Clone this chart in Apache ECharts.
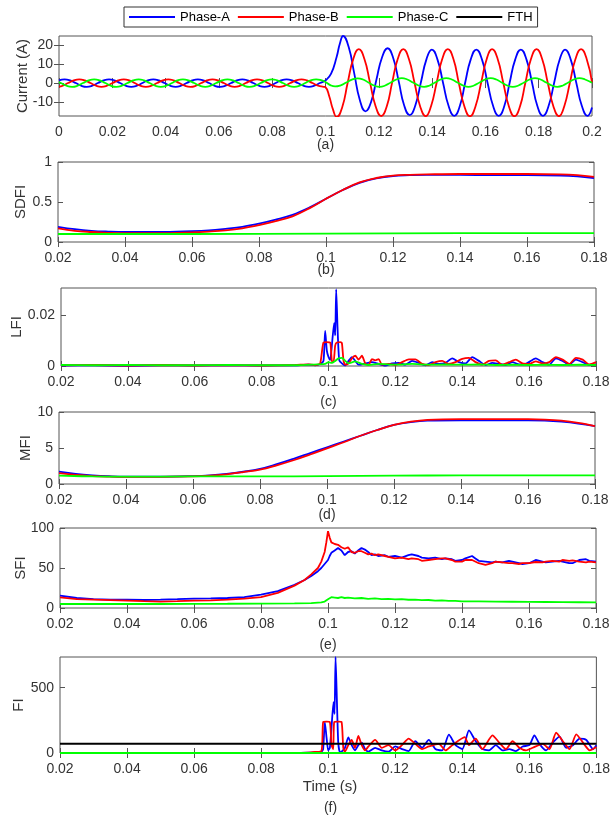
<!DOCTYPE html>
<html>
<head>
<meta charset="utf-8">
<script src="https://cdn.jsdelivr.net/npm/echarts@6.0.0/dist/echarts.min.js"></script>
<style>
html,body{margin:0;padding:0;background:#fff}
#chart{width:613px;height:817px}
</style>
</head>
<body>
<div id="chart"></div>
<script>
// ---- tick labels ----
const xTicksA = [0, 0.02, 0.04, 0.06, 0.08, 0.1, 0.12, 0.14, 0.16, 0.18, 0.2]
const xTicks = [0.02, 0.04, 0.06, 0.08, 0.1, 0.12, 0.14, 0.16, 0.18]
const yTicksA = [-10, 0, 10, 20]
const yTicksB = [0, 0.5, 1]
const yTicksC = [0, 0.02]
const yTicksD = [0, 5, 10]
const yTicksE = [0, 50, 100]
const yTicksF = [0, 500]

// ---- (a) currents [t, A] ----
const curA = [[0,1.41],[0.0021,2],[0.0042,1.41],[0.0063,0],[0.0083,-1.41],[0.0104,-2],[0.0125,-1.41],[0.0146,0],[0.0167,1.41],[0.0188,2],[0.0208,1.41],[0.0229,0],[0.025,-1.41],[0.0271,-2],[0.0292,-1.41],[0.0313,0],[0.0333,1.41],[0.0354,2],[0.0375,1.41],[0.0396,0],[0.0417,-1.41],[0.0438,-2],[0.0458,-1.41],[0.0479,0],[0.05,1.41],[0.0521,2],[0.0542,1.41],[0.0563,0],[0.0583,-1.41],[0.0604,-2],[0.0625,-1.41],[0.0646,0],[0.0667,1.41],[0.0688,2],[0.0708,1.41],[0.0729,0],[0.075,-1.41],[0.0771,-2],[0.0792,-1.41],[0.0813,0],[0.0833,1.41],[0.0854,2],[0.0875,1.41],[0.0896,0],[0.0917,-1.41],[0.0938,-2],[0.0958,-1.41],[0.0979,0],[0.1,1.41],
  [0.1021,5],[0.1042,14],[0.1054,21],[0.1066,25],[0.1087,19.1],[0.1108,5],[0.1129,-9.1],[0.115,-15],[0.1171,-10.1],[0.1191,1.75],[0.1212,13.6],[0.1233,18.5],[0.1254,13.3],[0.1275,0.75],[0.1295,-11.8],[0.1316,-17],[0.1337,-11.9],[0.1358,0.4],[0.1379,12.7],[0.1399,17.8],[0.142,12.6],[0.1441,0.2],[0.1462,-12.2],[0.1483,-17.4],[0.1504,-12.2],[0.1524,0.2],[0.1545,12.6],[0.1566,17.8],[0.1587,12.6],[0.1608,0.2],[0.1629,-12.2],[0.165,-17.4],[0.1671,-12.2],[0.1691,0.2],[0.1712,12.6],[0.1733,17.8],[0.1754,12.6],[0.1775,0.2],[0.1795,-12.2],[0.1816,-17.4],[0.1837,-12.2],[0.1858,0.2],[0.1879,12.6],[0.1899,17.8],[0.192,12.6],[0.1941,0.2],[0.1962,-12.2],[0.1983,-17.4],[0.2,-13]]
const curB = [[0,-1.95],[0.0014,-1.41],[0.0034,0],[0.0055,1.41],[0.0076,2],[0.0097,1.41],[0.0118,0],[0.0139,-1.41],[0.0159,-2],[0.018,-1.41],[0.0201,0],[0.0222,1.41],[0.0243,2],[0.0264,1.41],[0.0284,0],[0.0305,-1.41],[0.0326,-2],[0.0347,-1.41],[0.0368,0],[0.0389,1.41],[0.041,2],[0.043,1.41],[0.0451,0],[0.0472,-1.41],[0.0493,-2],[0.0514,-1.41],[0.0534,0],[0.0555,1.41],[0.0576,2],[0.0597,1.41],[0.0618,0],[0.0639,-1.41],[0.0659,-2],[0.068,-1.41],[0.0701,0],[0.0722,1.41],[0.0743,2],[0.0764,1.41],[0.0784,0],[0.0805,-1.41],[0.0826,-2],[0.0847,-1.41],[0.0868,0],[0.0889,1.41],[0.091,2],[0.093,1.41],[0.0951,0],[0.0972,-1.41],[0.0993,-2],[0.1,-2.2],
  [0.1014,-7],[0.1028,-14],[0.1042,-18],[0.1063,-12.7],[0.1083,0],[0.1104,12.7],[0.1125,18],[0.1146,12.8],[0.1167,0.25],[0.1188,-12.3],[0.1209,-17.5],[0.123,-12.3],[0.125,0.25],[0.1271,12.8],[0.1292,18],[0.1313,12.8],[0.1334,0.2],[0.1355,-12.3],[0.1376,-17.6],[0.1396,-12.3],[0.1417,0.2],[0.1438,12.8],[0.1459,18],[0.148,12.8],[0.15,0.2],[0.1521,-12.3],[0.1542,-17.6],[0.1563,-12.3],[0.1584,0.2],[0.1605,12.8],[0.1625,18],[0.1646,12.8],[0.1667,0.2],[0.1688,-12.3],[0.1709,-17.6],[0.173,-12.3],[0.175,0.2],[0.1771,12.8],[0.1792,18],[0.1813,12.8],[0.1834,0.2],[0.1855,-12.3],[0.1876,-17.6],[0.1896,-12.3],[0.1917,0.2],[0.1938,12.8],[0.1959,18],[0.198,12.8],[0.2,0.4]]
const curC = [[0,0.5],[0.0007,0],[0.0028,-1.41],[0.0049,-2],[0.007,-1.41],[0.009,0],[0.0111,1.41],[0.0132,2],[0.0153,1.41],[0.0174,0],[0.0194,-1.41],[0.0215,-2],[0.0236,-1.41],[0.0257,0],[0.0278,1.41],[0.0299,2],[0.0319,1.41],[0.034,0],[0.0361,-1.41],[0.0382,-2],[0.0403,-1.41],[0.0424,0],[0.0444,1.41],[0.0465,2],[0.0486,1.41],[0.0507,0],[0.0528,-1.41],[0.0549,-2],[0.0569,-1.41],[0.059,0],[0.0611,1.41],[0.0632,2],[0.0653,1.41],[0.0674,0],[0.0694,-1.41],[0.0715,-2],[0.0736,-1.41],[0.0757,0],[0.0778,1.41],[0.0799,2],[0.0819,1.41],[0.084,0],[0.0861,-1.41],[0.0882,-2],[0.0903,-1.41],[0.0924,0],[0.0944,1.41],[0.0965,2],[0.0986,1.41],[0.1,0.6],
  [0.1018,-1.1],[0.1036,-1.8],[0.1057,-1.2],[0.1078,0.3],[0.1099,1.8],[0.112,2.5],[0.1141,1.9],[0.1161,0.3],[0.1182,-1.3],[0.1203,-2],[0.1224,-1.3],[0.1245,0.3],[0.1266,1.9],[0.1286,2.6],[0.1307,1.9],[0.1328,0.3],[0.1349,-1.3],[0.137,-2],[0.1391,-1.3],[0.1411,0.3],[0.1432,1.9],[0.1453,2.6],[0.1474,1.9],[0.1495,0.3],[0.1516,-1.3],[0.1536,-2],[0.1557,-1.3],[0.1578,0.3],[0.1599,1.9],[0.162,2.6],[0.1641,1.9],[0.1661,0.3],[0.1682,-1.3],[0.1703,-2],[0.1724,-1.3],[0.1745,0.3],[0.1766,1.9],[0.1786,2.6],[0.1807,1.9],[0.1828,0.3],[0.1849,-1.3],[0.187,-2],[0.1891,-1.3],[0.1911,0.3],[0.1932,1.9],[0.1953,2.6],[0.1974,1.9],[0.2,0.2]]

// ---- (b) SDFI ----
const sdfiA = [[0.02,0.19],[0.025,0.16],[0.03,0.14],[0.035,0.13],[0.04,0.125],[0.05,0.125],[0.06,0.135],[0.065,0.145],[0.07,0.165],[0.075,0.19],[0.08,0.23],[0.085,0.28],[0.09,0.34],[0.095,0.43],[0.1,0.54],[0.105,0.65],[0.11,0.74],[0.115,0.795],[0.12,0.825],[0.125,0.835],[0.13,0.84],[0.14,0.84],[0.15,0.835],[0.16,0.835],[0.17,0.83],[0.175,0.82],[0.18,0.8]]
const sdfiB = [[0.02,0.17],[0.025,0.14],[0.03,0.125],[0.035,0.115],[0.04,0.11],[0.05,0.11],[0.06,0.12],[0.065,0.13],[0.07,0.145],[0.075,0.17],[0.08,0.21],[0.085,0.26],[0.09,0.32],[0.095,0.42],[0.1,0.54],[0.105,0.65],[0.11,0.745],[0.115,0.8],[0.12,0.83],[0.125,0.84],[0.13,0.845],[0.14,0.85],[0.15,0.85],[0.16,0.85],[0.17,0.845],[0.175,0.835],[0.18,0.815]]
const sdfiC = [[0.02,0.1],[0.06,0.1],[0.1,0.105],[0.14,0.11],[0.18,0.11]]

// ---- (c) LFI ----
const lfiA = [[0.02,0.0002],[0.03,0.0003],[0.04,0.0001],[0.05,0.0003],[0.06,0.0002],[0.07,0.0003],[0.08,0.0002],[0.09,0.0003],[0.094,0.0005],[0.096,0.0003],[0.0975,0.0008],[0.0985,0.002],[0.099,0.0137],[0.0995,0.006],[0.1,0.0035],[0.1005,0.0023],[0.101,0.008],[0.1017,0.0168],[0.102,0.012],[0.1023,0.03],[0.1027,0.015],[0.1032,0.0023],[0.104,0.001],[0.105,0.0002],[0.106,0.002],[0.107,0.0035],[0.108,0.002],[0.109,0.0005],[0.111,0.001],[0.113,0.0015],[0.115,0.0008],[0.117,0.0002],[0.119,0.001],[0.121,0.0012],[0.123,0.0005],[0.125,0.002],[0.127,0.0012],[0.129,0.0003],[0.131,0.0015],[0.133,0.0008],[0.135,0.0012],[0.137,0.003],[0.139,0.0015],[0.141,0.001],[0.143,0.0035],[0.145,0.002],[0.147,0.0004],[0.149,0.0012],[0.151,0.0008],[0.153,0.0004],[0.155,0.0015],[0.157,0.0006],[0.159,0.0008],[0.162,0.003],[0.164,0.0015],[0.166,0.0005],[0.168,0.003],[0.17,0.002],[0.172,0.0005],[0.174,0.0025],[0.176,0.0015],[0.178,0.0004],[0.18,0.0006]]
const lfiB = [[0.02,0.0003],[0.03,0.0004],[0.04,0.0002],[0.05,0.0004],[0.06,0.0002],[0.07,0.0003],[0.08,0.0002],[0.09,0.0004],[0.094,0.0006],[0.096,0.0004],[0.0975,0.001],[0.0985,0.0092],[0.0995,0.0093],[0.1005,0.0092],[0.101,0.002],[0.1015,0.0015],[0.102,0.008],[0.1025,0.0092],[0.1035,0.0093],[0.104,0.009],[0.1045,0.002],[0.105,0.0005],[0.106,0.001],[0.107,0.003],[0.108,0.004],[0.109,0.0025],[0.11,0.004],[0.111,0.001],[0.112,0.0005],[0.113,0.0027],[0.114,0.0022],[0.115,0.0027],[0.116,0.0005],[0.118,0.0008],[0.12,0.0004],[0.122,0.0015],[0.124,0.0026],[0.126,0.0026],[0.128,0.0008],[0.13,0.0004],[0.132,0.0015],[0.134,0.002],[0.136,0.0008],[0.138,0.0015],[0.14,0.0028],[0.142,0.0032],[0.144,0.0015],[0.146,0.0005],[0.148,0.002],[0.15,0.0022],[0.152,0.0005],[0.154,0.0015],[0.156,0.0025],[0.158,0.001],[0.16,0.0008],[0.162,0.0018],[0.164,0.001],[0.166,0.0015],[0.168,0.0035],[0.17,0.0025],[0.172,0.0008],[0.174,0.0032],[0.176,0.0025],[0.178,0.0006],[0.18,0.0015]]
const lfiC = [[0.02,0.0004],[0.03,0.0003],[0.04,0.0004],[0.05,0.0003],[0.06,0.0003],[0.07,0.0004],[0.08,0.0003],[0.09,0.0003],[0.095,0.0005],[0.099,0.0008],[0.1,0.0015],[0.101,0.0012],[0.102,0.002],[0.103,0.003],[0.104,0.0032],[0.105,0.002],[0.106,0.001],[0.108,0.0018],[0.11,0.0008],[0.112,0.0004],[0.115,0.0008],[0.12,0.0005],[0.125,0.0008],[0.13,0.0005],[0.135,0.0006],[0.14,0.0005],[0.145,0.0006],[0.15,0.0004],[0.155,0.0005],[0.16,0.0004],[0.165,0.0005],[0.17,0.0004],[0.175,0.0005],[0.18,0.0004]]

// ---- (d) MFI ----
const mfiA = [[0.02,1.72],[0.025,1.4],[0.03,1.2],[0.035,1.08],[0.04,1.02],[0.05,1.02],[0.06,1.1],[0.065,1.2],[0.07,1.4],[0.075,1.7],[0.08,2.1],[0.085,2.75],[0.09,3.5],[0.095,4.3],[0.1,5.1],[0.105,5.9],[0.11,6.7],[0.115,7.5],[0.12,8.2],[0.125,8.6],[0.13,8.8],[0.14,8.85],[0.15,8.85],[0.16,8.85],[0.165,8.8],[0.17,8.65],[0.175,8.4],[0.18,8.05]]
const mfiB = [[0.02,1.5],[0.025,1.25],[0.03,1.1],[0.035,1.03],[0.04,1],[0.05,1],[0.06,1.05],[0.065,1.15],[0.07,1.35],[0.075,1.65],[0.08,2],[0.085,2.6],[0.09,3.3],[0.095,4.1],[0.1,4.95],[0.105,5.8],[0.11,6.7],[0.115,7.5],[0.12,8.2],[0.125,8.65],[0.13,8.9],[0.14,9],[0.15,9],[0.16,9],[0.165,8.95],[0.17,8.8],[0.175,8.5],[0.18,8.05]]
const mfiC = [[0.02,1.15],[0.03,1.05],[0.04,1.02],[0.06,1.05],[0.08,1.05],[0.1,1.1],[0.12,1.15],[0.14,1.2],[0.16,1.2],[0.18,1.2]]

// ---- (e) SFI ----
const sfiA = [[0.02,15.4],[0.025,12.5],[0.03,11],[0.035,10.5],[0.04,10.4],[0.045,10],[0.05,10.4],[0.055,11],[0.06,11.7],[0.065,12],[0.07,12.5],[0.075,13.7],[0.08,16.7],[0.085,21],[0.09,29],[0.093,35],[0.095,40],[0.097,46],[0.098,50],[0.099,55],[0.1,60],[0.1005,65],[0.101,69],[0.102,72],[0.103,75],[0.104,72],[0.105,66],[0.106,70],[0.107,71],[0.108,68],[0.109,72],[0.11,75],[0.111,73],[0.112,70],[0.113,66],[0.114,67],[0.115,65],[0.117,66],[0.118,64],[0.12,65],[0.122,63],[0.124,66],[0.125,67],[0.127,65],[0.128,63],[0.13,62],[0.132,63],[0.134,61],[0.135,62],[0.137,61],[0.138,59],[0.14,60],[0.141,62],[0.143,65],[0.144,62],[0.145,59],[0.147,58],[0.149,57],[0.15,58],[0.152,57],[0.154,59],[0.155,58],[0.157,56],[0.158,55],[0.16,56],[0.162,60],[0.164,58],[0.165,57],[0.167,58],[0.169,59],[0.17,58],[0.172,56],[0.173,56],[0.175,60],[0.177,61],[0.178,59],[0.18,58]]
const sfiB = [[0.02,13.3],[0.025,11],[0.03,10.4],[0.035,9.8],[0.04,9.2],[0.045,8.5],[0.05,8],[0.055,8.5],[0.06,9.2],[0.065,9.6],[0.07,10.4],[0.075,11.7],[0.08,13.7],[0.085,19],[0.09,28],[0.093,35],[0.095,42],[0.097,50],[0.098,58],[0.099,70],[0.0995,82],[0.1,96],[0.1005,88],[0.101,82],[0.102,80],[0.103,79],[0.104,76],[0.105,74],[0.106,76],[0.107,70],[0.108,69],[0.109,71],[0.11,71],[0.111,69],[0.112,67],[0.113,68],[0.114,66],[0.115,67],[0.117,65],[0.118,64],[0.12,62],[0.122,63],[0.124,61],[0.125,62],[0.127,61],[0.128,59],[0.13,60],[0.132,61],[0.134,62],[0.135,62],[0.137,60],[0.138,58],[0.14,58],[0.141,60],[0.143,60],[0.145,56],[0.147,54],[0.149,56],[0.15,58],[0.152,57],[0.154,56],[0.155,56],[0.157,55],[0.158,56],[0.16,56],[0.162,57.5],[0.164,57],[0.165,58],[0.167,59],[0.169,58],[0.17,60],[0.172,59],[0.173,59.5],[0.175,58],[0.177,57],[0.178,58],[0.18,57]]
const sfiC = [[0.02,5],[0.03,5.2],[0.04,5],[0.05,5],[0.06,5.2],[0.07,5.3],[0.08,5.5],[0.09,5.8],[0.095,6],[0.098,7],[0.099,8],[0.1,11],[0.101,13.5],[0.102,13],[0.103,12.5],[0.104,13.5],[0.105,12.5],[0.106,13],[0.108,12],[0.11,12.5],[0.112,11.5],[0.114,12],[0.116,11],[0.118,11.5],[0.12,10.8],[0.122,11],[0.124,10.3],[0.126,10.5],[0.128,9.8],[0.13,10],[0.132,9.3],[0.134,9.5],[0.136,8.8],[0.138,9],[0.14,8.4],[0.145,8.3],[0.15,8],[0.155,7.8],[0.16,7.6],[0.165,7.5],[0.17,7.3],[0.175,7.2],[0.18,7]]

// ---- (f) FI ----
const fiA = [[0.02,0],[0.09,0],[0.094,2],[0.096,5],[0.098,10],[0.0985,30],[0.099,237],[0.0995,120],[0.1,20],[0.1005,40],[0.101,200],[0.1016,390],[0.1019,300],[0.1022,735],[0.1026,400],[0.103,80],[0.1035,5],[0.104,10],[0.105,40],[0.106,120],[0.107,60],[0.108,20],[0.109,60],[0.11,80],[0.111,30],[0.112,10],[0.114,40],[0.116,20],[0.118,10],[0.12,50],[0.122,30],[0.124,15],[0.126,90],[0.128,40],[0.13,100],[0.132,30],[0.134,20],[0.136,140],[0.138,60],[0.14,30],[0.142,173],[0.144,90],[0.146,30],[0.148,20],[0.15,60],[0.152,20],[0.154,30],[0.156,15],[0.158,50],[0.16,60],[0.1615,135],[0.163,70],[0.165,20],[0.167,80],[0.169,125],[0.171,40],[0.173,60],[0.175,110],[0.177,100],[0.179,30],[0.18,60]]
const fiB = [[0.02,0],[0.09,0],[0.094,3],[0.096,8],[0.098,15],[0.0985,237],[0.0995,240],[0.1005,237],[0.101,60],[0.1015,30],[0.1018,237],[0.103,240],[0.104,237],[0.1045,40],[0.105,10],[0.106,60],[0.107,100],[0.108,40],[0.109,130],[0.11,60],[0.111,20],[0.112,50],[0.114,100],[0.116,40],[0.118,60],[0.12,20],[0.122,60],[0.124,110],[0.126,70],[0.128,30],[0.13,50],[0.133,70],[0.135,20],[0.137,60],[0.1407,122],[0.142,60],[0.144,110],[0.146,30],[0.149,135],[0.151,80],[0.153,30],[0.155,90],[0.157,40],[0.159,20],[0.161,40],[0.164,70],[0.166,30],[0.168,155],[0.17,90],[0.172,30],[0.174,143],[0.176,80],[0.178,20],[0.18,46]]
const fiC = [[0.02,0],[0.18,0]]
const fth = [[0.02,71],[0.18,71]]

const names = ['Phase-A', 'Phase-B', 'Phase-C']
const colors = ['#0000ff', '#ff0000', '#00ff00']
const FONT = "'Liberation Sans', Arial, sans-serif"
const TXT = '#333'
const BOX = '#555'

const panels = [
    {rect:[59,36,533,80], x:[0,0.2], xt:xTicksA, y:[-17.5,25], yt:yTicksA, name:'Current (A)', gap:29, tag:'(a)', tagY:145, lines:[curA,curB,curC], smooth:0.5},
    {rect:[58,162,536,80], x:[0.02,0.18], xt:xTicks, y:[0,1], yt:yTicksB, name:'SDFI', gap:30, tag:'(b)', tagY:270, lines:[sdfiA,sdfiB,sdfiC], smooth:0.4},
    {rect:[61,288,535,78], x:[0.02,0.18], xt:xTicks, y:[0,0.0305], yt:yTicksC, name:'LFI', gap:37, tag:'(c)', tagY:402, lines:[lfiA,lfiB,lfiC], smooth:0.2},
    {rect:[59,412,536,72], x:[0.02,0.18], xt:xTicks, y:[0,10], yt:yTicksD, name:'MFI', gap:26, tag:'(d)', tagY:515, lines:[mfiA,mfiB,mfiC], smooth:0.4},
    {rect:[60,528,536,80], x:[0.02,0.18], xt:xTicks, y:[0,100], yt:yTicksE, name:'SFI', gap:32, tag:'(e)', tagY:645, lines:[sfiA,sfiB,sfiC], smooth:0},
    {rect:[60,657,541,96], x:[0.02,0.18], xt:xTicks, y:[0,735], yt:yTicksF, name:'FI', gap:34, tag:'(f)', tagY:808, lines:[fiA,fiB,fiC], smooth:0.2, fth:fth}
]

const fmt = v => String(+(+v).toFixed(4))

const grid = [], xAxis = [], yAxis = [], series = [], graphic = []

panels.forEach((p, i) => {
    const [l, t, w, h] = p.rect
    grid.push({left:l, top:t, width:w, height:h, show:true, borderColor:BOX, borderWidth:1, containLabel:false})
    const tick = vals => ({show:true, inside:true, length:5, customValues:vals, lineStyle:{color:BOX}})
    // bottom + mirrored top
    xAxis.push({type:'value', gridIndex:i, min:p.x[0], max:p.x[1], position:'bottom',
        axisLine:{show:false}, splitLine:{show:false}, axisTick:tick(p.xt),
        axisLabel:{customValues:p.xt, formatter:fmt, margin:9, color:TXT, fontSize:14, fontFamily:FONT}})
    xAxis.push({type:'value', gridIndex:i, min:p.x[0], max:p.x[1], position:'top',
        axisLine:{show:false}, splitLine:{show:false}, axisTick:tick(p.xt), axisLabel:{show:false}})
    // left + mirrored right
    yAxis.push({type:'value', gridIndex:i, min:p.y[0], max:p.y[1], position:'left',
        name:p.name, nameLocation:'middle', nameGap:p.gap, nameMoveOverlap:false,
        nameTextStyle:{color:TXT, fontSize:15, fontFamily:FONT},
        axisLine:{show:false}, splitLine:{show:false}, axisTick:tick(p.yt),
        axisLabel:{customValues:p.yt, formatter:fmt, margin:6, color:TXT, fontSize:14, fontFamily:FONT}})
    yAxis.push({type:'value', gridIndex:i, min:p.y[0], max:p.y[1], position:'right',
        axisLine:{show:false}, splitLine:{show:false}, axisTick:tick(p.yt), axisLabel:{show:false}})

    p.lines.forEach((d, k) => {
        series.push({name:names[k], type:'line', xAxisIndex:2*i, yAxisIndex:2*i, data:d,
            symbol:'none', smooth:p.smooth, clip:true,
            lineStyle:{color:colors[k], width:1.8}, itemStyle:{color:colors[k]}})
    })
    if (p.fth) {
        series.splice(series.length - 1, 0, {name:'FTH', type:'line', xAxisIndex:2*i, yAxisIndex:2*i, data:p.fth,
            symbol:'none', lineStyle:{color:'#000', width:1.8}, itemStyle:{color:'#000'}})
    }
    graphic.push({type:'text', x:l + w/2, y:p.tagY,
        style:{text:p.tag, align:'center', verticalAlign:'middle', fill:TXT, font:'14px ' + FONT}})
})
graphic.push({type:'text', x:330, y:787,
    style:{text:'Time (s)', align:'center', verticalAlign:'middle', fill:TXT, font:'15px ' + FONT}})

const chart = echarts.init(document.getElementById('chart'))
chart.setOption({
    animation:false,
    backgroundColor:'#fff',
    legend:{data:['Phase-A','Phase-B','Phase-C','FTH'], left:124, top:7, padding:[3,5],
        icon:'rect', itemWidth:46, itemHeight:2, itemGap:8, borderColor:'#333', borderWidth:1,
        textStyle:{fontSize:13, color:'#000', fontFamily:FONT, lineHeight:14}},
    grid, xAxis, yAxis, series, graphic
})
</script>
</body>
</html>
